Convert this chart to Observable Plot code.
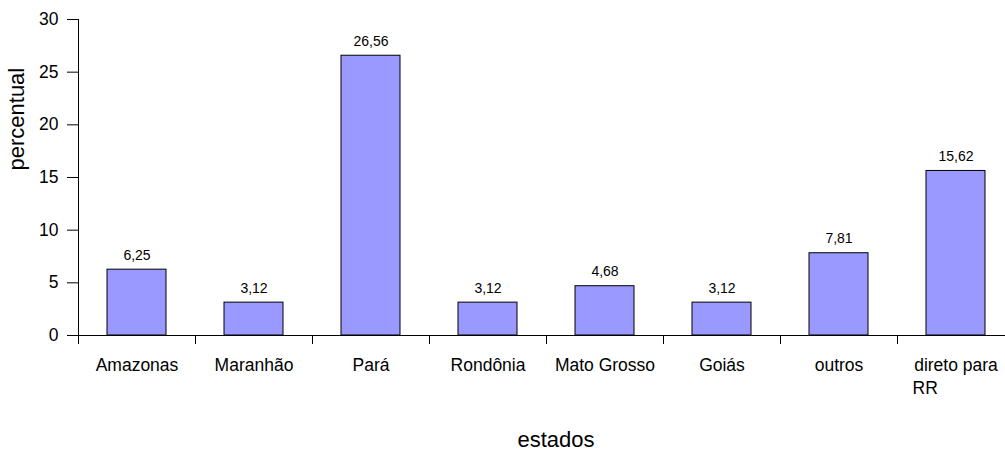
<!DOCTYPE html>
<html>
<head>
<meta charset="utf-8">
<script src="https://cdn.jsdelivr.net/npm/d3@7"></script>
<script src="https://cdn.jsdelivr.net/npm/@observablehq/plot@0.6"></script>
<style>
  html, body { margin: 0; padding: 0; background: #fff; }
  #chart svg { display: block; }
</style>
</head>
<body>
<div id="chart"></div>
<script>
const categories = ["Amazonas", "Maranhão", "Pará", "Rondônia", "Mato Grosso", "Goiás", "outros", "direto para RR"];
const labelLine1 = ["Amazonas", "Maranhão", "Pará", "Rondônia", "Mato Grosso", "Goiás", "outros", "direto para"];
const labelLine2 = ["", "", "", "", "", "", "", "RR"];
const values = [6.25, 3.12, 26.56, 3.12, 4.68, 3.12, 7.81, 15.62];
const valueLabels = ["6,25", "3,12", "26,56", "3,12", "4,68", "3,12", "7,81", "15,62"];
const yTicks = [0, 5, 10, 15, 20, 25, 30];
const xTitle = "estados";
const yTitle = "percentual";

const data = categories.map((c, i) => ({cat: c, value: values[i], label: valueLabels[i], l1: labelLine1[i], l2: labelLine2[i]}));
const font = "'Liberation Sans', Arial, sans-serif";

const chart = Plot.plot({
  width: 1005,
  height: 452,
  marginTop: 19,
  marginBottom: 117,
  marginLeft: 78,
  marginRight: 0,
  style: {fontFamily: font, background: "#fff", color: "#000"},
  x: {type: "band", domain: categories, range: [78, 1014], paddingInner: 0.5, paddingOuter: 0.25, axis: null},
  y: {domain: [0, 30], axis: null},
  marks: [
    Plot.barY(data, {x: "cat", y: "value", fill: "#9999ff", stroke: "#000", strokeWidth: 1}),
    Plot.text(data, {x: "cat", y: "value", text: "label", dy: -10, lineAnchor: "bottom", fontSize: 14, fill: "#000"}),
    Plot.ruleY([0], {stroke: "#000", strokeWidth: 1}),
    Plot.frame({anchor: "left", stroke: "#000"}),
    Plot.axisY({ticks: yTicks, tickSize: 11, tickPadding: 9, fontSize: 17.5, label: null, tickFormat: d => String(d)}),
    Plot.axisX({ticks: categories, tickSize: 9, tickFormat: () => "", dx: -58.5, label: null}),
    Plot.text(data, {x: "cat", text: "l1", frameAnchor: "bottom", lineAnchor: "top", dy: 23, fontSize: 17.5, fill: "#000"}),
    Plot.text(data, {x: "cat", text: "l2", frameAnchor: "bottom", lineAnchor: "top", dy: 46, dx: -43.5, textAnchor: "start", fontSize: 17.5, fill: "#000"}),
    Plot.text([xTitle], {text: d => d, frameAnchor: "bottom", lineAnchor: "bottom", dy: 111, dx: 14, fontSize: 22, fill: "#000"}),
    Plot.text([yTitle], {text: d => d, frameAnchor: "left", rotate: -90, lineAnchor: "top", dx: -70, dy: -7, fontSize: 22, fill: "#000"})
  ]
});
document.getElementById("chart").appendChild(chart);
</script>
</body>
</html>
